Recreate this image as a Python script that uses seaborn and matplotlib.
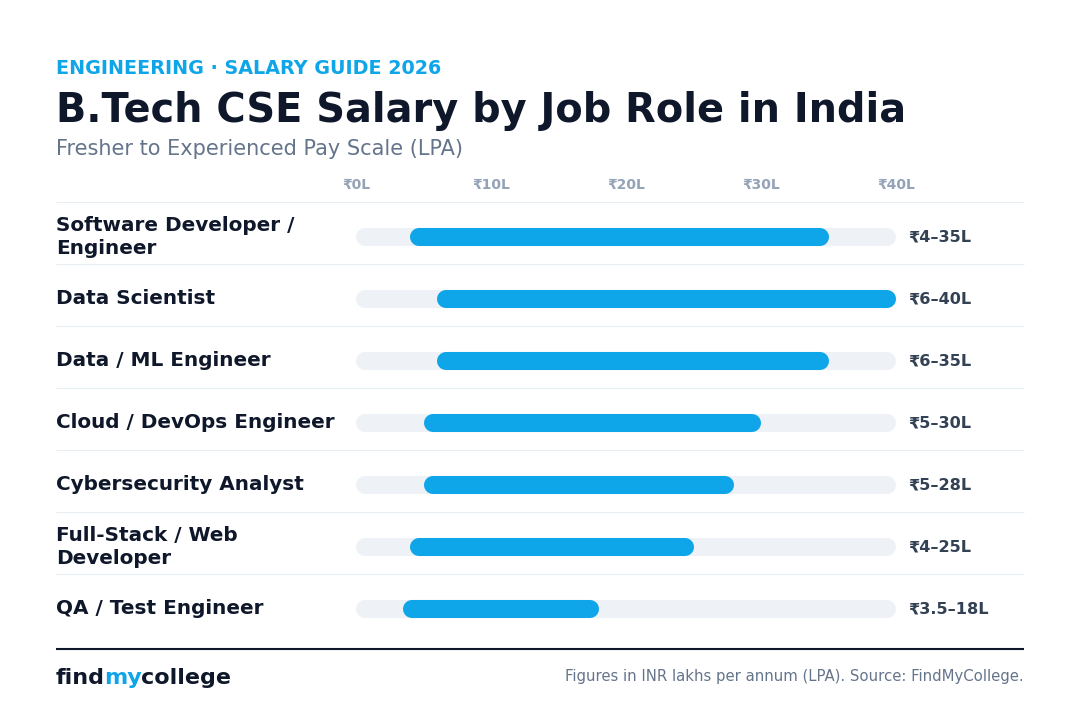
import matplotlib
matplotlib.use("Agg")
import matplotlib.pyplot as plt
import seaborn as sns

roles = ["Software Developer /\nEngineer", "Data Scientist", "Data / ML Engineer",
         "Cloud / DevOps Engineer", "Cybersecurity Analyst",
         "Full-Stack / Web\nDeveloper", "QA / Test Engineer"]
low = [4, 6, 6, 5, 5, 4, 3.5]
high = [35, 40, 35, 30, 28, 25, 18]
value_labels = ["₹4–35L", "₹6–40L", "₹6–35L", "₹5–30L", "₹5–28L", "₹4–25L", "₹3.5–18L"]
ticks = [0, 10, 20, 30, 40]

sns.set_theme(style="white")
plt.rcParams["font.family"] = ["DejaVu Sans"]
F = "DejaVu Sans"

BLUE = "#0ea5e9"
NAVY = "#0f172a"
TRACK = "#eef2f7"
PX = 13.5          # pixels per lakh
X0 = 356           # pixel of 0L

fig = plt.figure(figsize=(10.8, 7.22), dpi=100)
ax = fig.add_axes([0, 0, 1, 1])
ax.set_xlim(-X0 / PX, (1080 - X0) / PX)
ax.set_ylim(722, 0)
ax.axis("off")

def px(x):
    return (x - X0) / PX

r = 9 / PX  # cap radius in data units
for i, role in enumerate(roles):
    y = 237 + 62 * i
    ax.hlines(y - 35, px(56), px(1024), color="#e8edf3", lw=0.8)
    ax.hlines(y, 0 + r, 40 - r, color=TRACK, lw=13, capstyle="round")
    ax.hlines(y, low[i] + r, high[i] - r, color=BLUE, lw=13, capstyle="round")
    ax.text(px(56), y, role, fontsize=14.4, fontweight="bold", color=NAVY,
            va="center", ha="left", linespacing=1.3, family=F)
    ax.text(px(908), y, value_labels[i], fontsize=11.6, fontweight="bold",
            color="#334155", va="center", ha="left", family=F)

for t in ticks:
    ax.text(t, 185, f"₹{t}L", fontsize=10, fontweight="bold", color="#94a3b8",
            ha="center", va="center", family=F)

ax.text(px(56), 68, "ENGINEERING · SALARY GUIDE 2026", fontsize=13.8,
        fontweight="bold", color=BLUE, va="center", family=F)
ax.text(px(56), 111, "B.Tech CSE Salary by Job Role in India", fontsize=28.7,
        fontweight="bold", color=NAVY, va="center", family=F)
ax.text(px(56), 149, "Fresher to Experienced Pay Scale (LPA)", fontsize=15,
        color="#64748b", va="center", family=F)

ax.hlines(649, px(56), px(1024), color=NAVY, lw=1.5)
ax.text(px(56), 678, "find", fontsize=16, fontweight="bold", color=NAVY, va="center", family=F)
ax.text(px(104), 678, "my", fontsize=16, fontweight="bold", color=BLUE, va="center", family=F)
ax.text(px(141), 678, "college", fontsize=16, fontweight="bold", color=NAVY, va="center", family=F)
ax.text(px(1024), 677, "Figures in INR lakhs per annum (LPA). Source: FindMyCollege.",
        fontsize=10.75, color="#64748b", va="center", ha="right", family=F)

fig.savefig("out.png", dpi=100, facecolor="white")
